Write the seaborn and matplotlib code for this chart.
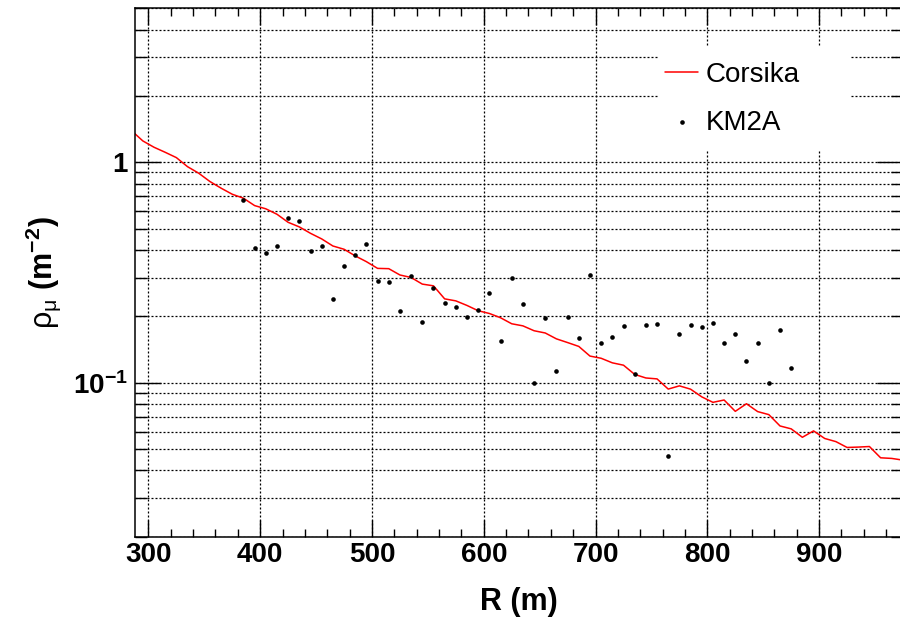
import matplotlib
matplotlib.use("Agg")
import numpy as np
import pandas as pd
import matplotlib.pyplot as plt
import seaborn as sns
from matplotlib.patches import Rectangle
from matplotlib.ticker import MultipleLocator, LogLocator, NullFormatter, FixedLocator

# ---------------- data ----------------
corsika_r = [285, 295, 305, 315, 325, 335, 345, 355, 365, 375,
             385, 395, 405, 415, 425, 435, 445, 455, 465, 475,
             485, 495, 505, 515, 525, 535, 545, 555, 565, 575,
             585, 595, 605, 615, 625, 635, 645, 655, 665, 675,
             685, 695, 705, 715, 725, 735, 745, 755, 765, 775,
             785, 795, 805, 815, 825, 835, 845, 855, 865, 875,
             885, 895, 905, 915, 925, 935, 945, 955, 965, 975]
corsika_rho = [1.39, 1.25, 1.17, 1.11, 1.05, 0.955, 0.892, 0.818, 0.763, 0.716,
               0.687, 0.636, 0.615, 0.581, 0.534, 0.509, 0.476, 0.449, 0.417, 0.403,
               0.376, 0.354, 0.330, 0.329, 0.308, 0.300, 0.280, 0.275, 0.240, 0.235,
               0.224, 0.212, 0.206, 0.197, 0.185, 0.181, 0.172, 0.168, 0.158, 0.152,
               0.146, 0.132, 0.129, 0.123, 0.120, 0.109, 0.105, 0.104, 0.0935, 0.0967,
               0.0934, 0.0862, 0.0814, 0.0834, 0.0741, 0.0802, 0.0739, 0.0716, 0.0636, 0.0617,
               0.0565, 0.0604, 0.0558, 0.0540, 0.0508, 0.0510, 0.0513, 0.0456, 0.0453, 0.0445]

km2a_r = [385, 395, 405, 415, 425, 435, 445, 455, 465, 475,
          485, 495, 505, 515, 525, 535, 545, 555, 565, 575,
          585, 595, 605, 615, 625, 635, 645, 655, 665, 675,
          685, 695, 705, 715, 725, 735, 745, 755, 765, 775,
          785, 795, 805, 815, 825, 835, 845, 855, 865, 875]
km2a_rho = [0.673, 0.409, 0.386, 0.417, 0.557, 0.542, 0.397, 0.419, 0.240, 0.339,
            0.380, 0.426, 0.290, 0.285, 0.211, 0.304, 0.188, 0.270, 0.229, 0.220,
            0.199, 0.214, 0.255, 0.155, 0.299, 0.228, 0.100, 0.196, 0.113, 0.198,
            0.160, 0.307, 0.152, 0.161, 0.181, 0.109, 0.183, 0.185, 0.0465, 0.166,
            0.182, 0.178, 0.187, 0.152, 0.167, 0.126, 0.152, 0.0995, 0.174, 0.117]

x_major_ticks = [300, 400, 500, 600, 700, 800, 900]
y_major_ticks = [0.1, 1]
y_tick_labels = ["10$^{\\mathbf{-1}}$", "1"]

df_c = pd.DataFrame({"R": corsika_r, "rho": corsika_rho})
df_k = pd.DataFrame({"R": km2a_r, "rho": km2a_rho})

# ---------------- style ----------------
sns.set_style("ticks")
plt.rcParams["font.family"] = ["Liberation Sans", "DejaVu Sans"]
plt.rcParams["mathtext.fontset"] = "custom"
plt.rcParams["mathtext.rm"] = "Liberation Sans"
plt.rcParams["mathtext.it"] = "Liberation Sans:italic"
plt.rcParams["mathtext.bf"] = "Liberation Sans:bold"
for k in ["text.color", "axes.labelcolor", "xtick.color", "ytick.color", "axes.edgecolor"]:
    plt.rcParams[k] = "black"

fig = plt.figure(figsize=(9, 6.2), dpi=100)
fig.patch.set_facecolor("white")
ax = fig.add_axes([0.15, 0.1344, 0.8533, 0.8523])
ax.set_facecolor("white")

sns.lineplot(data=df_c, x="R", y="rho", color="#ff0000", lw=1.1,
             label="Corsika", ax=ax, estimator=None, sort=True, zorder=2)
sns.scatterplot(data=df_k, x="R", y="rho", color="black", s=11, linewidth=0,
                label="KM2A", ax=ax, zorder=3)

ax.set_yscale("log")
ax.set_xlim(288, 975)
ax.set_ylim(0.02, 5)

ax.xaxis.set_major_locator(FixedLocator(x_major_ticks))
ax.xaxis.set_minor_locator(MultipleLocator(20))
ax.set_yticks(y_major_ticks)
ax.set_yticklabels(y_tick_labels)
ax.yaxis.set_minor_locator(LogLocator(base=10, subs=np.arange(2, 10)))
ax.yaxis.set_minor_formatter(NullFormatter())

for lab in ax.get_xticklabels() + ax.get_yticklabels():
    lab.set_fontweight("bold")
    lab.set_fontsize(20)
    lab.set_color("black")

gs = dict(color="black", linestyle=(0, (1.6, 1.6)), linewidth=0.9)
ax.grid(False)
ax.grid(True, which="major", axis="x", **gs)
ax.grid(True, which="both", axis="y", **gs)
ax.set_axisbelow(True)

ax.tick_params(axis="both", which="both", direction="in", top=True, right=True,
               color="black", width=1.0)
ax.tick_params(axis="x", which="major", length=12, pad=4)
ax.tick_params(axis="x", which="minor", length=6)
ax.tick_params(axis="y", which="major", length=19, pad=5)
ax.tick_params(axis="y", which="minor", length=8.5)

for sp in ax.spines.values():
    sp.set_visible(True)
    sp.set_color("black")
    sp.set_linewidth(1.1)

ax.set_xlabel("R (m)", fontsize=22, fontweight="bold", color="black")
ax.xaxis.set_label_coords(0.5, -0.095)
ax.set_ylabel(r"$\mathrm{\rho_{\mu}}$ (m$^{\mathbf{-2}}$)", fontsize=22,
              fontweight="bold", color="black")
ax.yaxis.set_label_coords(-0.094, 0.5)

# white legend pane (no border), as in the reference
ax.add_patch(Rectangle((0.681, 0.732), 0.25, 0.195, transform=ax.transAxes,
                       facecolor="white", edgecolor="none", zorder=4))
leg = ax.legend(loc="upper left", bbox_to_anchor=(0.681, 0.9116),
                borderaxespad=0, frameon=False, fontsize=20, handlelength=1.2,
                handletextpad=0.27, labelspacing=0.78, borderpad=0.25)
leg.set_zorder(5)
for t in leg.get_texts():
    t.set_color("black")

fig.savefig("out.png", dpi=100, facecolor="white")
